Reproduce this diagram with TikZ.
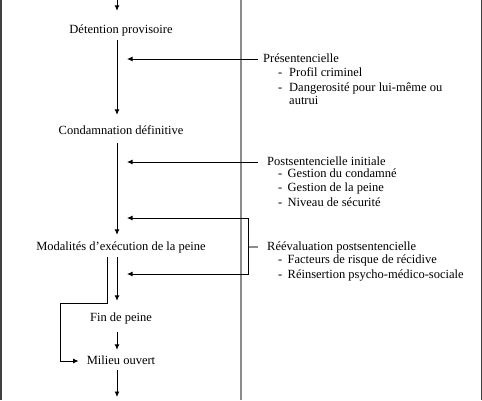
\documentclass[tikz,border=0pt]{standalone}
\usepackage{fontspec}
\setmainfont{Liberation Serif}
\usetikzlibrary{arrows.meta}
\begin{document}
\begin{tikzpicture}[x=1pt,y=-1pt,
  txt/.style={font=\fontsize{12.5}{15}\selectfont, inner xsep=0pt, inner ysep=3pt, text height=9pt, text depth=3pt},
  main/.style={txt, anchor=base},
  side/.style={txt, anchor=base west},
  arr/.style={-{Latex[length=5.5pt,width=5pt]}, line width=0.9pt, black},
  frame/.style={line width=1.5pt, draw=black!75},
  divider/.style={line width=1.4pt, draw=black!45},
  tick/.style={line width=1.2pt, draw=black!45}]
\useasboundingbox (0,0) rectangle (482,400);
\fill[white] (0,0) rectangle (482,400);
% frame and divider
\coordinate (fl1) at (0.75,0); \coordinate (fl2) at (0.75,400);
\coordinate (fr1) at (481.25,0); \coordinate (fr2) at (481.25,400);
\coordinate (dv1) at (241,0); \coordinate (dv2) at (241,400);
\draw[frame] (fl1) -- (fl2);
\draw[frame] (fr1) -- (fr2);
\draw[divider] (dv1) -- (dv2);
% axis coordinates
\coordinate (ax) at (117,0);
\coordinate (bx) at (107,0);
\coordinate (tipx) at (127,0);
% main column
\node[main] (d) at (121,33) {Détention provisoire};
\node[main] (c) at (121,134) {Condamnation définitive};
\node[main] (m) at (121,250) {Modalités d’exécution de la peine};
\node[main] (f) at (121,321) {Fin de peine};
\node[main] (mo) at (121,364) {Milieu ouvert};
\coordinate (top) at (117,0);
\coordinate (bot) at (117,397);
\draw[arr, shorten >=10pt] (top) -- (d.north -| ax);
\draw[arr, shorten <=1pt, shorten >=7pt] (d.south -| ax) -- (c.north -| ax);
\draw[arr, shorten <=3pt, shorten >=3pt] (c.south -| ax) -- (m.north -| ax);
\draw[arr, shorten <=1pt, shorten >=8pt] (m.south -| ax) -- (f.north -| ax);
\draw[arr, shorten <=5pt, shorten >=2pt] (f.south -| ax) -- (mo.north -| ax);
\draw[arr] (mo.south -| ax) -- (bot);
% branch to milieu ouvert
\coordinate (b1) at (60,303);
\draw[arr, shorten <=1pt] (m.south -| bx) |- (b1) |- ([xshift=-8pt]mo.west);
% side labels
\node[side] (pres) at (263,62) {Présentencielle};
\node[side] (p1) at (278,76) {\makebox[11pt][l]{-}Profil criminel};
\node[side] (p2) at (278,91) {\makebox[11pt][l]{-}Dangerosité pour lui-même ou};
\node[side] (p3) at (289,104) {autrui};
\node[side] (post) at (267,165) {Postsentencielle initiale};
\node[side] (q1) at (278,177) {\makebox[9.5pt][l]{-}Gestion du condamné};
\node[side] (q2) at (278,191) {\makebox[9.5pt][l]{-}Gestion de la peine};
\node[side] (q3) at (278,206) {\makebox[9.5pt][l]{-}Niveau de sécurité};
\node[side] (reev) at (267,250) {Réévaluation postsentencielle};
\node[side] (r1) at (278,263) {\makebox[9.5pt][l]{-}Facteurs de risque de récidive};
\node[side] (r2) at (278,278) {\makebox[9.5pt][l]{-}Réinsertion psycho-médico-sociale};
% incoming arrows
\draw[arr] ([xshift=-5pt]pres.west) -- (pres.west -| tipx);
\draw[arr] ([xshift=-9pt]post.west) -- (post.west -| tipx);
% feedback bracket
\coordinate (fbT) at (127,218);
\coordinate (brT) at (248.5,218);
\coordinate (brB) at (248.5,274);
\coordinate (fbB) at (127,274);
\draw[arr, {Latex[length=5.5pt,width=5pt]}-{Latex[length=5.5pt,width=5pt]}] (fbT) -- (brT) -- (brB) -- (fbB);
\draw[tick] ([xshift=-9pt]reev.west) -- (reev.west -| brT);
\end{tikzpicture}
\end{document}
